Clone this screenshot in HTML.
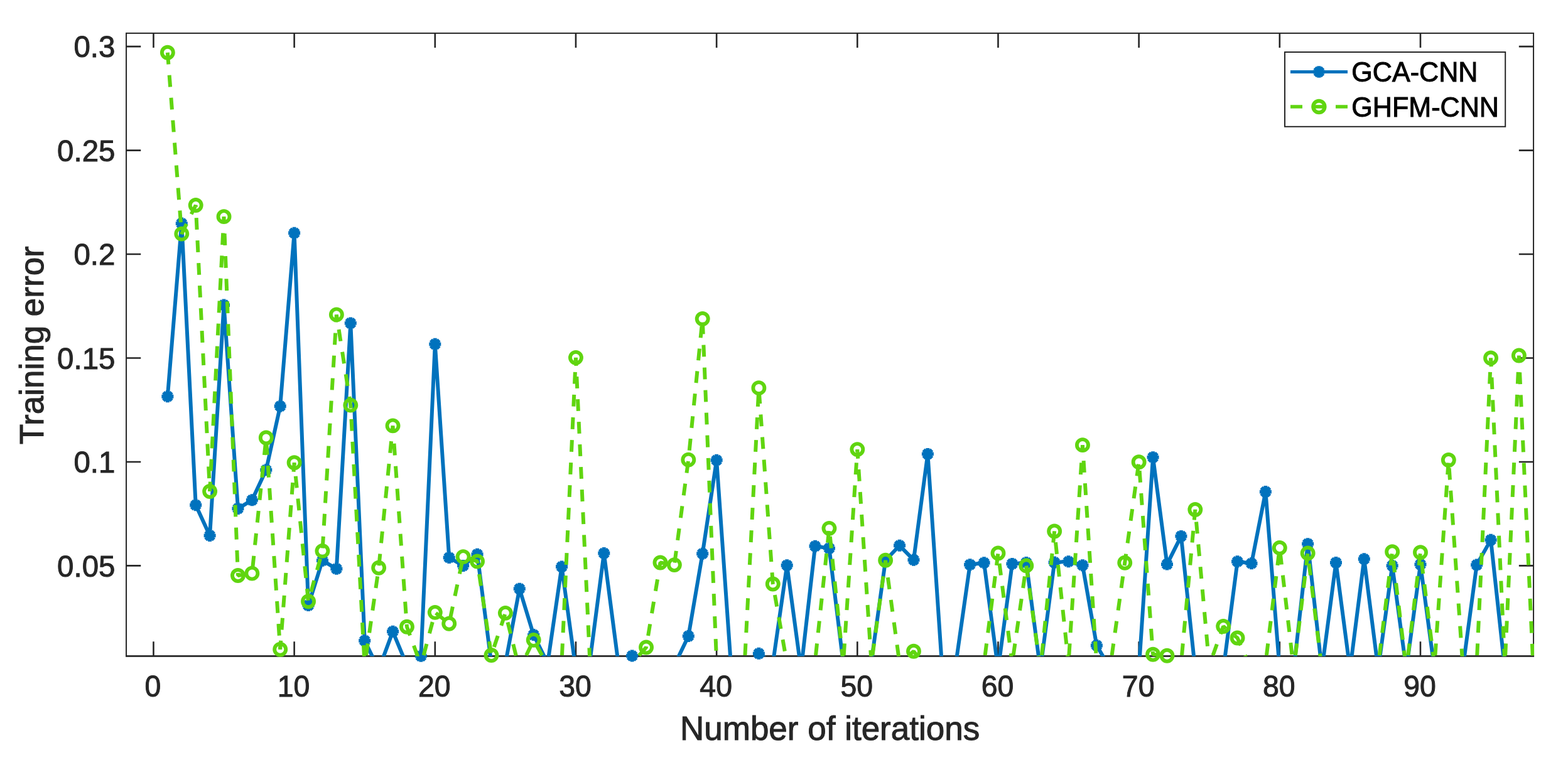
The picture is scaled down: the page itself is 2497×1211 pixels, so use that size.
<!DOCTYPE html>
<html lang="en"><head><meta charset="utf-8"><title>Training error vs. number of iterations</title>
<style>
html,body{margin:0;padding:0;background:#fff;}
body{width:2497px;height:1211px;overflow:hidden;}
svg{display:block;}
text{font-family:"Liberation Sans",Arial,Helvetica,sans-serif;}
.tk{font-size:48.3px;fill:#262626;stroke:#262626;stroke-width:1px;}
.lb{font-size:53px;fill:#262626;stroke:#262626;stroke-width:1px;}
.lg{font-size:43.1px;fill:#000;stroke:#000;stroke-width:1px;}
</style></head><body>
<svg width="2497" height="1211" viewBox="0 0 2497 1211">
<rect x="0" y="0" width="2497" height="1211" fill="#fff"/>
<defs><clipPath id="plotclip"><rect x="200.05" y="51.9" width="2243" height="993.9"/></clipPath></defs>
<g stroke="#262626" stroke-width="2" fill="none" stroke-linecap="butt">
<rect x="201.05" y="52.9" width="2241" height="992.5"/>
<path stroke-width="2.5" d="M200.05 1045.45H2443.05"/>
<path stroke-width="2.6" d="M244.45 1045.4V1022.2M244.45 52.9V76.1M468.62 1045.4V1022.2M468.62 52.9V76.1M692.79 1045.4V1022.2M692.79 52.9V76.1M916.96 1045.4V1022.2M916.96 52.9V76.1M1141.13 1045.4V1022.2M1141.13 52.9V76.1M1365.3 1045.4V1022.2M1365.3 52.9V76.1M1589.47 1045.4V1022.2M1589.47 52.9V76.1M1813.64 1045.4V1022.2M1813.64 52.9V76.1M2037.81 1045.4V1022.2M2037.81 52.9V76.1M2261.98 1045.4V1022.2M2261.98 52.9V76.1M201.05 901.4H224.25M2442.05 901.4H2418.85M201.05 735.95H224.25M2442.05 735.95H2418.85M201.05 570.5H224.25M2442.05 570.5H2418.85M201.05 405.05H224.25M2442.05 405.05H2418.85M201.05 239.6H224.25M2442.05 239.6H2418.85M201.05 74.15H224.25M2442.05 74.15H2418.85"/>
</g>
<g class="tk" text-anchor="middle">
<text transform="translate(243.45 1109.7) scale(0.96 1.012)">0</text>
<text transform="translate(467.62 1109.7) scale(0.96 1.012)">10</text>
<text transform="translate(691.79 1109.7) scale(0.96 1.012)">20</text>
<text transform="translate(915.96 1109.7) scale(0.96 1.012)">30</text>
<text transform="translate(1140.13 1109.7) scale(0.96 1.012)">40</text>
<text transform="translate(1364.3 1109.7) scale(0.96 1.012)">50</text>
<text transform="translate(1588.47 1109.7) scale(0.96 1.012)">60</text>
<text transform="translate(1812.64 1109.7) scale(0.96 1.012)">70</text>
<text transform="translate(2036.81 1109.7) scale(0.96 1.012)">80</text>
<text transform="translate(2260.98 1109.7) scale(0.96 1.012)">90</text>
</g>
<g class="tk" text-anchor="end">
<text transform="translate(183.4 918.6) scale(0.982 1.0)">0.05</text>
<text transform="translate(183.4 753.15) scale(0.982 1.0)">0.1</text>
<text transform="translate(183.4 587.7) scale(0.982 1.0)">0.15</text>
<text transform="translate(183.4 422.25) scale(0.982 1.0)">0.2</text>
<text transform="translate(183.4 256.8) scale(0.982 1.0)">0.25</text>
<text transform="translate(183.4 91.35) scale(0.982 1.0)">0.3</text>
</g>
<text class="lb" text-anchor="middle" x="1321.6" y="1178.5">Number of iterations</text>
<text class="lb" text-anchor="middle" transform="translate(68.7 550.3) rotate(-90)">Training error</text>
<g fill="none" stroke-linejoin="bevel">
<polyline clip-path="url(#plotclip)" stroke="#0072BD" stroke-width="6" points="266.867,631.716 289.284,356.077 311.701,804.777 334.118,853.419 356.535,486.12 378.952,810.403 401.369,796.836 423.786,748.855 446.203,647.269 468.62,371.298 491.037,964.602 513.454,893.127 535.871,906.363 558.288,514.909 580.705,1020.855 603.122,1066.85 625.539,1006.295 647.956,1060.232 670.373,1045.341 692.79,548.33 715.207,888.495 737.624,901.4 760.041,883.201 782.458,1056.923 804.875,1056.923 827.292,938.13 849.709,1011.59 872.126,1056.923 894.543,903.054 916.96,1066.85 939.377,1053.614 961.794,881.546 984.211,1053.614 1006.628,1045.011 1029.045,1066.85 1051.462,1066.85 1073.879,1060.232 1096.296,1013.575 1118.713,882.208 1141.13,733.303 1163.547,1053.614 1185.964,1066.85 1208.381,1041.371 1230.798,1056.923 1253.215,900.738 1275.632,1066.85 1298.049,870.295 1320.466,873.604 1342.883,1056.923 1365.3,1066.85 1387.717,1053.614 1410.134,892.797 1432.551,869.303 1454.968,892.135 1477.385,723.376 1499.802,1056.923 1522.219,1056.923 1544.636,899.745 1567.053,896.767 1589.47,1066.85 1611.887,898.422 1634.304,896.437 1656.721,1066.85 1679.138,896.106 1701.555,894.782 1723.972,900.738 1746.389,1028.466 1768.806,1066.85 1791.223,1066.85 1813.64,1066.85 1836.057,728.67 1858.474,899.084 1880.891,854.412 1903.308,1066.85 1925.725,1066.85 1948.142,1066.85 1970.559,894.782 1992.976,897.76 2015.393,783.6 2037.81,1066.85 2060.227,1066.85 2082.644,866.655 2105.061,1066.85 2127.478,896.437 2149.895,1066.85 2172.312,890.811 2194.729,1066.85 2217.146,901.4 2239.563,1066.85 2261.98,899.415 2284.397,1066.85 2306.814,1066.85 2329.231,1066.85 2351.648,900.076 2374.065,860.368 2396.482,1066.85 2418.899,1066.85 2441.316,1066.85"/>
<path stroke="#0072BD" stroke-width="5.9" d="M257.367 631.716H276.367M266.867 622.216V641.216M260.15 624.999L273.584 638.434M260.15 638.434L273.584 624.999M279.784 356.077H298.784M289.284 346.577V365.577M282.567 349.359L296.001 362.794M282.567 362.794L296.001 349.359M302.201 804.777H321.201M311.701 795.277V814.277M304.984 798.06L318.418 811.495M304.984 811.495L318.418 798.06M324.618 853.419H343.618M334.118 843.919V862.919M327.401 846.702L340.835 860.137M327.401 860.137L340.835 846.702M347.035 486.12H366.035M356.535 476.62V495.62M349.818 479.403L363.252 492.838M349.818 492.838L363.252 479.403M369.452 810.403H388.452M378.952 800.903V819.903M372.235 803.685L385.669 817.12M372.235 817.12L385.669 803.685M391.869 796.836H410.869M401.369 787.336V806.336M394.652 790.118L408.086 803.553M394.652 803.553L408.086 790.118M414.286 748.855H433.286M423.786 739.355V758.355M417.069 742.138L430.503 755.573M417.069 755.573L430.503 742.138M436.703 647.269H455.703M446.203 637.769V656.769M439.486 640.551L452.92 653.986M439.486 653.986L452.92 640.551M459.12 371.298H478.12M468.62 361.798V380.798M461.903 364.581L475.337 378.016M461.903 378.016L475.337 364.581M481.537 964.602H500.537M491.037 955.102V974.102M484.32 957.884L497.754 971.319M484.32 971.319L497.754 957.884M503.954 893.127H522.954M513.454 883.627V902.627M506.737 886.41L520.171 899.845M506.737 899.845L520.171 886.41M526.371 906.363H545.371M535.871 896.863V915.863M529.154 899.646L542.588 913.081M529.154 913.081L542.588 899.646M548.788 514.909H567.788M558.288 505.409V524.409M551.571 508.191L565.005 521.626M551.571 521.626L565.005 508.191M571.205 1020.855H590.205M580.705 1011.355V1030.355M573.988 1014.137L587.422 1027.572M573.988 1027.572L587.422 1014.137M616.039 1006.295H635.039M625.539 996.795V1015.795M618.822 999.578L632.256 1013.013M618.822 1013.013L632.256 999.578M660.873 1045.341H679.873M670.373 1035.841V1054.841M663.656 1038.624L677.09 1052.059M663.656 1052.059L677.09 1038.624M683.29 548.33H702.29M692.79 538.83V557.83M686.073 541.612L699.507 555.047M686.073 555.047L699.507 541.612M705.707 888.495H724.707M715.207 878.995V897.995M708.49 881.777L721.924 895.212M708.49 895.212L721.924 881.777M728.124 901.4H747.124M737.624 891.9V910.9M730.907 894.683L744.341 908.117M730.907 908.117L744.341 894.683M750.541 883.201H769.541M760.041 873.701V892.701M753.324 876.483L766.758 889.918M753.324 889.918L766.758 876.483M817.792 938.13H836.792M827.292 928.63V947.63M820.575 931.412L834.009 944.847M820.575 944.847L834.009 931.412M840.209 1011.59H859.209M849.709 1002.09V1021.09M842.992 1004.872L856.426 1018.307M842.992 1018.307L856.426 1004.872M885.043 903.054H904.043M894.543 893.554V912.554M887.826 896.337L901.26 909.772M887.826 909.772L901.26 896.337M952.294 881.546H971.294M961.794 872.046V891.046M955.077 874.829L968.511 888.263M955.077 888.263L968.511 874.829M997.128 1045.011H1016.128M1006.628 1035.511V1054.511M999.911 1038.293L1013.345 1051.728M999.911 1051.728L1013.345 1038.293M1086.796 1013.575H1105.796M1096.296 1004.075V1023.075M1089.579 1006.858L1103.013 1020.293M1089.579 1020.293L1103.013 1006.858M1109.213 882.208H1128.213M1118.713 872.708V891.708M1111.996 875.49L1125.43 888.925M1111.996 888.925L1125.43 875.49M1131.63 733.303H1150.63M1141.13 723.803V742.803M1134.413 726.585L1147.847 740.02M1134.413 740.02L1147.847 726.585M1198.881 1041.371H1217.881M1208.381 1031.871V1050.871M1201.664 1034.653L1215.098 1048.088M1201.664 1048.088L1215.098 1034.653M1243.715 900.738H1262.715M1253.215 891.238V910.238M1246.498 894.021L1259.932 907.456M1246.498 907.456L1259.932 894.021M1288.549 870.295H1307.549M1298.049 860.795V879.795M1291.332 863.578L1304.766 877.013M1291.332 877.013L1304.766 863.578M1310.966 873.604H1329.966M1320.466 864.104V883.104M1313.749 866.887L1327.183 880.322M1313.749 880.322L1327.183 866.887M1400.634 892.797H1419.634M1410.134 883.297V902.297M1403.417 886.079L1416.851 899.514M1403.417 899.514L1416.851 886.079M1423.051 869.303H1442.051M1432.551 859.803V878.803M1425.834 862.585L1439.268 876.02M1425.834 876.02L1439.268 862.585M1445.468 892.135H1464.468M1454.968 882.635V901.635M1448.251 885.417L1461.685 898.852M1448.251 898.852L1461.685 885.417M1467.885 723.376H1486.885M1477.385 713.876V732.876M1470.668 716.658L1484.102 730.093M1470.668 730.093L1484.102 716.658M1535.136 899.745H1554.136M1544.636 890.245V909.245M1537.919 893.028L1551.353 906.463M1537.919 906.463L1551.353 893.028M1557.553 896.767H1576.553M1567.053 887.267V906.267M1560.336 890.05L1573.77 903.485M1560.336 903.485L1573.77 890.05M1602.387 898.422H1621.387M1611.887 888.922V907.922M1605.17 891.704L1618.604 905.139M1605.17 905.139L1618.604 891.704M1624.804 896.437H1643.804M1634.304 886.937V905.937M1627.587 889.719L1641.021 903.154M1627.587 903.154L1641.021 889.719M1669.638 896.106H1688.638M1679.138 886.606V905.606M1672.421 889.388L1685.855 902.823M1672.421 902.823L1685.855 889.388M1692.055 894.782H1711.055M1701.555 885.282V904.282M1694.838 888.065L1708.272 901.499M1694.838 901.499L1708.272 888.065M1714.472 900.738H1733.472M1723.972 891.238V910.238M1717.255 894.021L1730.689 907.456M1717.255 907.456L1730.689 894.021M1736.889 1028.466H1755.889M1746.389 1018.966V1037.966M1739.672 1021.748L1753.106 1035.183M1739.672 1035.183L1753.106 1021.748M1826.557 728.67H1845.557M1836.057 719.17V738.17M1829.34 721.953L1842.774 735.388M1829.34 735.388L1842.774 721.953M1848.974 899.084H1867.974M1858.474 889.584V908.584M1851.757 892.366L1865.191 905.801M1851.757 905.801L1865.191 892.366M1871.391 854.412H1890.391M1880.891 844.912V863.912M1874.174 847.695L1887.608 861.13M1874.174 861.13L1887.608 847.695M1961.059 894.782H1980.059M1970.559 885.282V904.282M1963.842 888.065L1977.276 901.499M1963.842 901.499L1977.276 888.065M1983.476 897.76H2002.476M1992.976 888.26V907.26M1986.259 891.043L1999.693 904.478M1986.259 904.478L1999.693 891.043M2005.893 783.6H2024.893M2015.393 774.1V793.1M2008.676 776.882L2022.11 790.317M2008.676 790.317L2022.11 776.882M2073.144 866.655H2092.144M2082.644 857.155V876.155M2075.927 859.938L2089.361 873.373M2075.927 873.373L2089.361 859.938M2117.978 896.437H2136.978M2127.478 886.937V905.937M2120.761 889.719L2134.195 903.154M2120.761 903.154L2134.195 889.719M2162.812 890.811H2181.812M2172.312 881.311V900.311M2165.595 884.094L2179.029 897.529M2165.595 897.529L2179.029 884.094M2207.646 901.4H2226.646M2217.146 891.9V910.9M2210.429 894.683L2223.863 908.117M2210.429 908.117L2223.863 894.683M2252.48 899.415H2271.48M2261.98 889.915V908.915M2255.263 892.697L2268.697 906.132M2255.263 906.132L2268.697 892.697M2342.148 900.076H2361.148M2351.648 890.576V909.576M2344.931 893.359L2358.365 906.794M2344.931 906.794L2358.365 893.359M2364.565 860.368H2383.565M2374.065 850.868V869.868M2367.348 853.651L2380.782 867.086M2367.348 867.086L2380.782 853.651"/>
<path clip-path="url(#plotclip)" stroke="#60D510" stroke-width="6" stroke-dasharray="18.8 17.272" stroke-dashoffset="0" d="M266.867 83.746L289.284 372.622L311.701 326.958L334.118 782.938L356.535 345.157L378.952 916.952L401.369 913.643L423.786 697.566L446.203 1034.753L468.62 737.274L491.037 958.315L513.454 877.906L535.871 501.342L558.288 645.614L580.351 1053.692"/>
<path clip-path="url(#plotclip)" stroke="#60D510" stroke-width="6" stroke-dasharray="18.8 17.272" stroke-dashoffset="-1.3" d="M582.843 1045.4L603.122 904.709L625.539 678.373L647.956 998.685L665.419 1046.631"/>
<path clip-path="url(#plotclip)" stroke="#60D510" stroke-width="6" stroke-dasharray="18.8 17.272" stroke-dashoffset="-1.3" d="M674.313 1045.4L692.79 975.852L715.207 993.721L737.624 887.171L760.041 894.451L782.458 1044.018L804.875 976.845L822.398 1047.2"/>
<path clip-path="url(#plotclip)" stroke="#60D510" stroke-width="6" stroke-dasharray="18.8 17.272" stroke-dashoffset="-1.3" d="M837.525 1045.4L849.709 1019.862L864.338 1046.207"/>
<path clip-path="url(#plotclip)" stroke="#60D510" stroke-width="6" stroke-dasharray="18.8 17.272" stroke-dashoffset="-1.3" d="M894.924 1045.4L916.96 569.838L939.445 1055.076"/>
<path clip-path="url(#plotclip)" stroke="#60D510" stroke-width="6" stroke-dasharray="18.8 17.272" stroke-dashoffset="-1.3" d="M1016.766 1045.4L1029.045 1031.444L1051.462 896.437L1073.879 900.076L1096.296 732.641L1118.713 507.96L1141.241 1056.313"/>
<path clip-path="url(#plotclip)" stroke="#60D510" stroke-width="6" stroke-dasharray="18.8 17.272" stroke-dashoffset="-1.3" d="M1186.387 1045.4L1208.381 618.15L1230.798 930.519L1251.62 1047.928"/>
<path clip-path="url(#plotclip)" stroke="#60D510" stroke-width="6" stroke-dasharray="18.8 17.272" stroke-dashoffset="-1.3" d="M1298.918 1045.4L1320.466 841.838L1342.13 1049.702"/>
<path clip-path="url(#plotclip)" stroke="#60D510" stroke-width="6" stroke-dasharray="18.8 17.272" stroke-dashoffset="-1.3" d="M1343.641 1045.4L1365.3 716.096L1387.407 1052.217"/>
<path clip-path="url(#plotclip)" stroke="#60D510" stroke-width="6" stroke-dasharray="18.8 17.272" stroke-dashoffset="-1.3" d="M1389.291 1045.4L1410.134 892.797L1431.425 1048.683"/>
<path clip-path="url(#plotclip)" stroke="#60D510" stroke-width="6" stroke-dasharray="18.8 17.272" stroke-dashoffset="-1.3" d="M1446.01 1045.4L1454.968 1037.731L1461.32 1045.982"/>
<path clip-path="url(#plotclip)" stroke="#60D510" stroke-width="6" stroke-dasharray="18.8 17.272" stroke-dashoffset="-1.3" d="M1568.526 1045.4L1589.47 881.546L1610.862 1048.908"/>
<path clip-path="url(#plotclip)" stroke="#60D510" stroke-width="6" stroke-dasharray="18.8 17.272" stroke-dashoffset="-1.3" d="M1613.548 1045.4L1634.304 901.4L1654.263 1048.709"/>
<path clip-path="url(#plotclip)" stroke="#60D510" stroke-width="6" stroke-dasharray="18.8 17.272" stroke-dashoffset="-1.3" d="M1658.903 1045.4L1679.138 846.471L1700.776 1049.609"/>
<path clip-path="url(#plotclip)" stroke="#60D510" stroke-width="6" stroke-dasharray="18.8 17.272" stroke-dashoffset="-1.3" d="M1702.298 1045.4L1723.972 709.147L1746.095 1052.356"/>
<path clip-path="url(#plotclip)" stroke="#60D510" stroke-width="6" stroke-dasharray="18.8 17.272" stroke-dashoffset="-1.3" d="M1770.419 1045.4L1791.223 896.767L1813.64 736.281L1836.057 1042.694L1858.474 1044.68L1860.241 1045.645"/>
<path clip-path="url(#plotclip)" stroke="#60D510" stroke-width="6" stroke-dasharray="18.8 17.272" stroke-dashoffset="-1.3" d="M1881.946 1045.4L1903.308 812.057L1924.834 1050.364"/>
<path clip-path="url(#plotclip)" stroke="#60D510" stroke-width="6" stroke-dasharray="18.8 17.272" stroke-dashoffset="-1.3" d="M1931.07 1045.4L1948.142 998.023L1970.559 1016.553L1983.864 1046.406"/>
<path clip-path="url(#plotclip)" stroke="#60D510" stroke-width="6" stroke-dasharray="18.8 17.272" stroke-dashoffset="-1.3" d="M2016.797 1045.4L2037.81 872.943L2058.196 1049.278"/>
<path clip-path="url(#plotclip)" stroke="#60D510" stroke-width="6" stroke-dasharray="18.8 17.272" stroke-dashoffset="-1.3" d="M2062.822 1045.4L2082.644 881.546L2102.914 1049.106"/>
<path clip-path="url(#plotclip)" stroke="#60D510" stroke-width="6" stroke-dasharray="18.8 17.272" stroke-dashoffset="-1.3" d="M2196.566 1045.4L2217.146 879.23L2237.448 1049.152"/>
<path clip-path="url(#plotclip)" stroke="#60D510" stroke-width="6" stroke-dasharray="18.8 17.272" stroke-dashoffset="-1.3" d="M2242.139 1045.4L2261.98 880.222L2282.998 1049"/>
<path clip-path="url(#plotclip)" stroke="#60D510" stroke-width="6" stroke-dasharray="18.8 17.272" stroke-dashoffset="-1.3" d="M2285.413 1045.4L2306.814 732.972L2328.882 1051.879"/>
<path clip-path="url(#plotclip)" stroke="#60D510" stroke-width="6" stroke-dasharray="18.8 17.272" stroke-dashoffset="-1.3" d="M2352.179 1045.4L2374.065 570.5L2396.251 1055.195"/>
<path clip-path="url(#plotclip)" stroke="#60D510" stroke-width="6" stroke-dasharray="18.8 17.272" stroke-dashoffset="-1.3" d="M2397.155 1045.4L2418.899 566.529L2441.238 1055.208"/>
<g stroke="#60D510" stroke-width="5.9">
<circle cx="266.867" cy="83.746" r="9"/>
<circle cx="289.284" cy="372.622" r="9"/>
<circle cx="311.701" cy="326.958" r="9"/>
<circle cx="334.118" cy="782.938" r="9"/>
<circle cx="356.535" cy="345.157" r="9"/>
<circle cx="378.952" cy="916.952" r="9"/>
<circle cx="401.369" cy="913.643" r="9"/>
<circle cx="423.786" cy="697.566" r="9"/>
<circle cx="446.203" cy="1034.753" r="9"/>
<circle cx="468.62" cy="737.274" r="9"/>
<circle cx="491.037" cy="958.315" r="9"/>
<circle cx="513.454" cy="877.906" r="9"/>
<circle cx="535.871" cy="501.342" r="9"/>
<circle cx="558.288" cy="645.614" r="9"/>
<circle cx="603.122" cy="904.709" r="9"/>
<circle cx="625.539" cy="678.373" r="9"/>
<circle cx="647.956" cy="998.685" r="9"/>
<circle cx="692.79" cy="975.852" r="9"/>
<circle cx="715.207" cy="993.721" r="9"/>
<circle cx="737.624" cy="887.171" r="9"/>
<circle cx="760.041" cy="894.451" r="9"/>
<circle cx="782.458" cy="1044.018" r="9"/>
<circle cx="804.875" cy="976.845" r="9"/>
<circle cx="849.709" cy="1019.862" r="9"/>
<circle cx="916.96" cy="569.838" r="9"/>
<circle cx="1029.045" cy="1031.444" r="9"/>
<circle cx="1051.462" cy="896.437" r="9"/>
<circle cx="1073.879" cy="900.076" r="9"/>
<circle cx="1096.296" cy="732.641" r="9"/>
<circle cx="1118.713" cy="507.96" r="9"/>
<circle cx="1208.381" cy="618.15" r="9"/>
<circle cx="1230.798" cy="930.519" r="9"/>
<circle cx="1320.466" cy="841.838" r="9"/>
<circle cx="1365.3" cy="716.096" r="9"/>
<circle cx="1410.134" cy="892.797" r="9"/>
<circle cx="1454.968" cy="1037.731" r="9"/>
<circle cx="1589.47" cy="881.546" r="9"/>
<circle cx="1634.304" cy="901.4" r="9"/>
<circle cx="1679.138" cy="846.471" r="9"/>
<circle cx="1723.972" cy="709.147" r="9"/>
<circle cx="1791.223" cy="896.767" r="9"/>
<circle cx="1813.64" cy="736.281" r="9"/>
<circle cx="1836.057" cy="1042.694" r="9"/>
<circle cx="1858.474" cy="1044.68" r="9"/>
<circle cx="1903.308" cy="812.057" r="9"/>
<circle cx="1948.142" cy="998.023" r="9"/>
<circle cx="1970.559" cy="1016.553" r="9"/>
<circle cx="2037.81" cy="872.943" r="9"/>
<circle cx="2082.644" cy="881.546" r="9"/>
<circle cx="2217.146" cy="879.23" r="9"/>
<circle cx="2261.98" cy="880.222" r="9"/>
<circle cx="2306.814" cy="732.972" r="9"/>
<circle cx="2374.065" cy="570.5" r="9"/>
<circle cx="2418.899" cy="566.529" r="9"/>
</g>
</g>
<rect x="2046" y="83" width="351.2" height="118.8" fill="#fff" stroke="#262626" stroke-width="2"/>
<path d="M2055 114.5H2146" stroke="#0072BD" stroke-width="5" fill="none"/>
<path d="M2091.1 114.5H2109.7M2100.4 105.2V123.8M2093.824 107.924L2106.976 121.076M2093.824 121.076L2106.976 107.924" stroke="#0072BD" stroke-width="6.2" fill="none"/>
<path d="M2055 170H2074M2127 170H2146" stroke="#60D510" stroke-width="5.5" fill="none"/>
<circle cx="2100.4" cy="170" r="9.2" stroke="#60D510" stroke-width="6" fill="none"/>
<path d="M2093 170H2108" stroke="#60D510" stroke-width="5.6" fill="none"/>
<text class="lg" transform="translate(2152.3 130.4) scale(1 1.05)">GCA-CNN</text>
<text class="lg" transform="translate(2152.3 185.8) scale(1 1.05)">GHFM-CNN</text>
</svg>
</body></html>
